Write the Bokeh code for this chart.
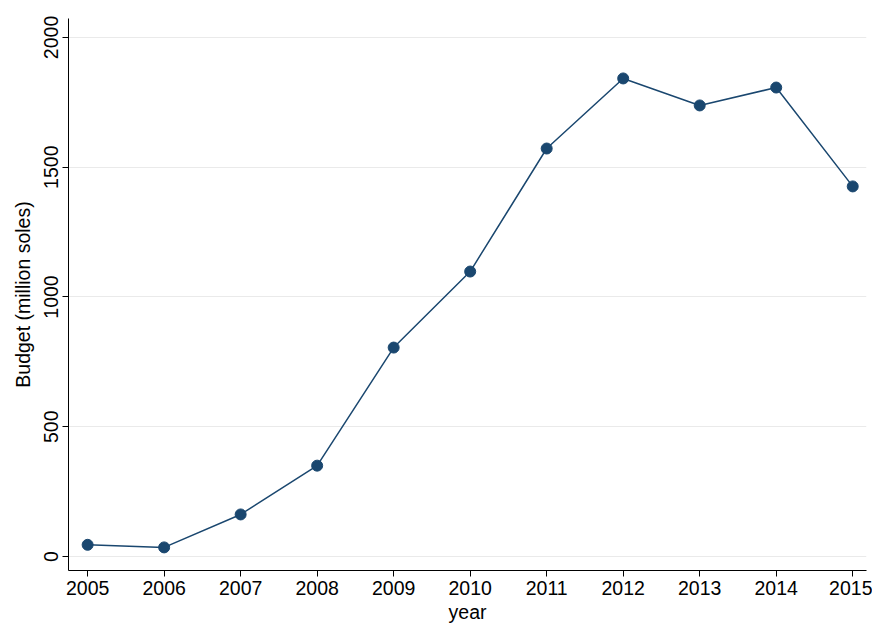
from bokeh.plotting import figure
from bokeh.models import Range1d, FixedTicker
from bokeh.embed import file_html
from bokeh.resources import INLINE

years = [2005, 2006, 2007, 2008, 2009, 2010, 2011, 2012, 2013, 2014, 2015]
budget = [45, 35, 162, 350, 805, 1098, 1572, 1842, 1738, 1807, 1426]
y_ticks = [0, 500, 1000, 1500, 2000]

navy = "#1a476f"
p = figure(frame_width=798, frame_height=552, output_backend="svg", toolbar_location=None,
           x_range=Range1d(2004.75, 2015.18), y_range=Range1d(-54, 2073),
           x_axis_label="year", y_axis_label="Budget (million soles)",
           min_border_left=68, min_border_bottom=54, min_border_top=18, min_border_right=6)
p.outline_line_color = None
p.xgrid.grid_line_color = None
p.ygrid.grid_line_color = "#eaeaea"
p.ygrid.ticker = FixedTicker(ticks=y_ticks)
p.xaxis.ticker = FixedTicker(ticks=years)
p.yaxis.ticker = FixedTicker(ticks=y_ticks)
p.yaxis.major_label_orientation = "vertical"
for ax in (p.xaxis, p.yaxis):
    ax.axis_line_color = "black"
    ax.major_tick_line_color = "black"
    ax.minor_tick_line_color = None
    ax.major_tick_out = 6
    ax.major_tick_in = 0
    ax.major_label_text_font = "Liberation Sans"
    ax.major_label_text_font_size = "19.5px"
    ax.major_label_text_color = "black"
    ax.major_label_standoff = 4
    ax.axis_label_text_font = "Liberation Sans"
    ax.axis_label_text_font_size = "19.5px"
    ax.axis_label_text_color = "black"
    ax.axis_label_text_font_style = "normal"
    ax.axis_label_standoff = 3
p.yaxis.axis_label_standoff = 8

p.line(years, budget, line_color=navy, line_width=1.5)
p.scatter(years, budget, size=11, fill_color=navy, line_color=navy)

open("out.html", "w").write(file_html(p, INLINE))
